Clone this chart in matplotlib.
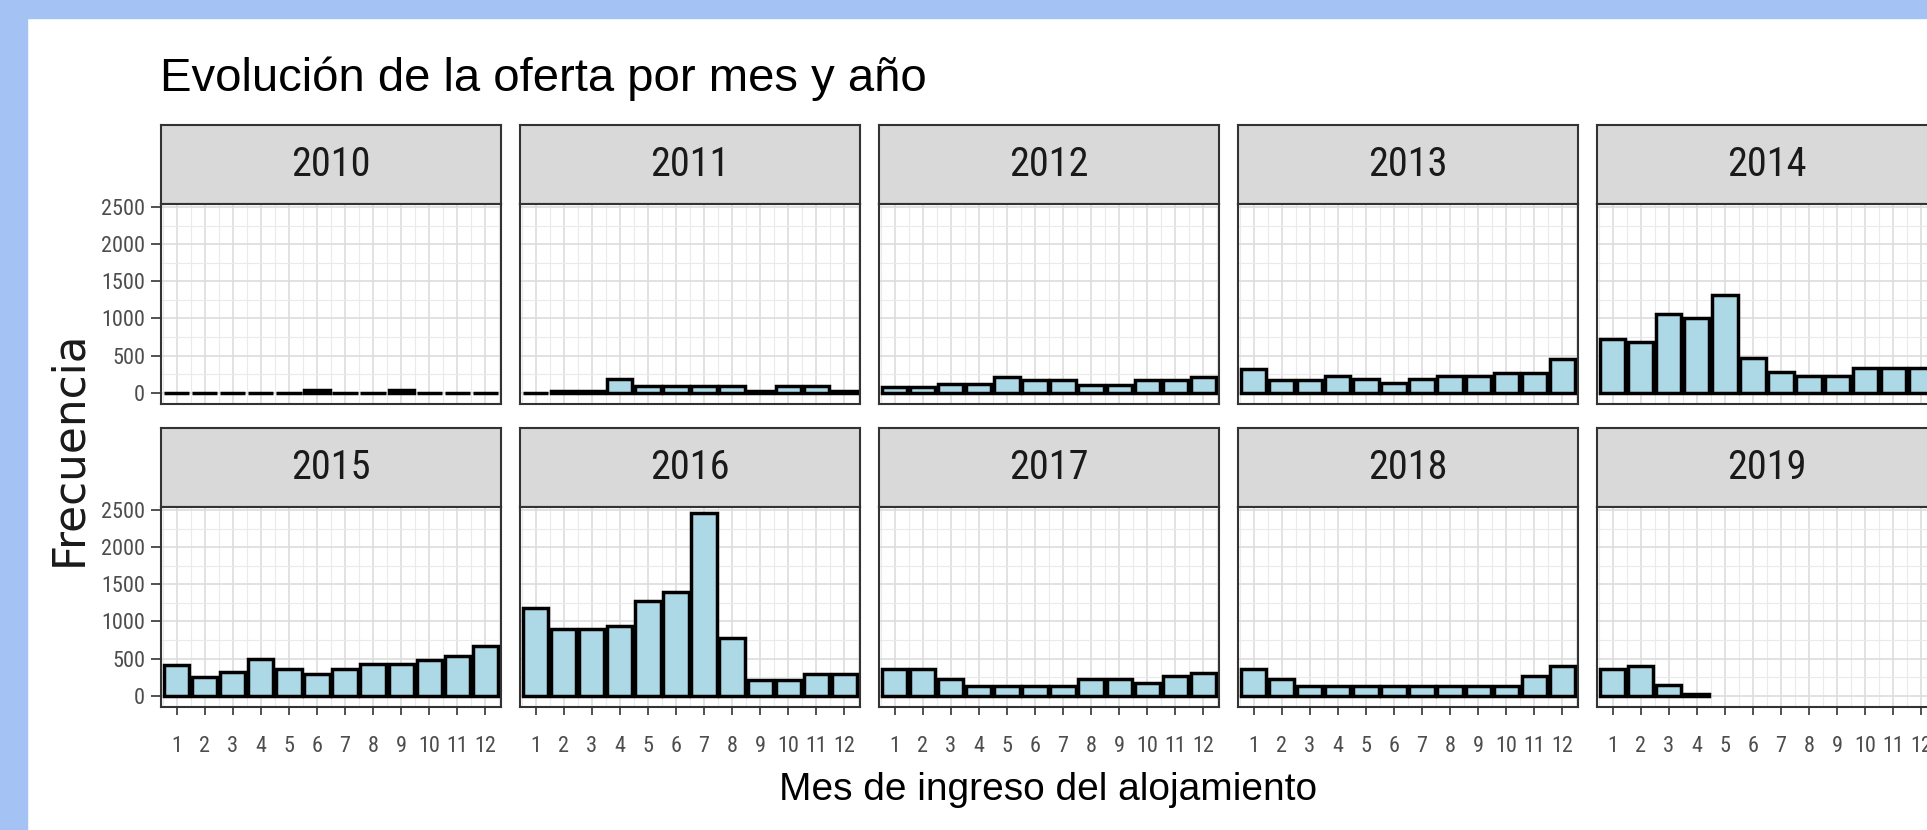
import matplotlib
matplotlib.use("Agg")
import matplotlib.pyplot as plt
from matplotlib import font_manager
from matplotlib.patches import Rectangle

W, H = 1927, 830

years = [2010, 2011, 2012, 2013, 2014, 2015, 2016, 2017, 2018, 2019]
months = [1, 2, 3, 4, 5, 6, 7, 8, 9, 10, 11, 12]
months_2019 = [1, 2, 3, 4]

c2010 = [4, 4, 4, 4, 4, 40, 4, 4, 40, 4, 4, 4]
c2011 = [3, 30, 30, 185, 90, 90, 90, 90, 30, 90, 90, 30]
c2012 = [75, 75, 115, 115, 215, 175, 175, 110, 110, 175, 175, 215]
c2013 = [320, 175, 175, 230, 190, 130, 185, 220, 220, 270, 270, 450]
c2014 = [730, 690, 1060, 1000, 1320, 465, 285, 220, 220, 330, 330, 330]
c2015 = [410, 260, 315, 500, 365, 300, 360, 435, 435, 480, 535, 675]
c2016 = [1180, 895, 895, 945, 1270, 1400, 2455, 775, 210, 210, 300, 300]
c2017 = [365, 365, 225, 130, 130, 130, 130, 225, 225, 175, 265, 310]
c2018 = [365, 230, 130, 130, 130, 130, 130, 130, 130, 130, 265, 400]
c2019 = [355, 405, 145, 25]

y_ticks = [0, 500, 1000, 1500, 2000, 2500]
y_minor = [250, 750, 1250, 1750, 2250]
x_minor = [0.5, 1.5, 2.5, 3.5, 4.5, 5.5, 6.5, 7.5, 8.5, 9.5, 10.5, 11.5, 12.5]

title = "Evolución de la oferta por mes y año"
xlabel = "Mes de ingreso del alojamiento"
ylabel = "Frecuencia"

# ggplot text in the screenshot looks condensed; use a narrow face if there is one
names = {f.name for f in font_manager.fontManager.ttflist}
narrow_faces = ["Liberation Sans Narrow", "Arial Narrow", "Roboto Condensed",
                "Noto Sans Condensed", "Open Sans Condensed"]
NARROW = next((n for n in narrow_faces if n in names), None)
if NARROW:
    strip_size, tick_size = 29, 16
else:
    NARROW, strip_size, tick_size = "Liberation Sans", 26, 15


def px_box(left, top, width, height):
    return [left / W, 1 - (top + height) / H, width / W, height / H]


def draw_panel(fig, x0, top, year, xs, ys, row, col):
    strip_h, panel_h, panel_w = 79, 200, 340

    sax = fig.add_axes(px_box(x0, top, panel_w, strip_h))
    sax.set_facecolor("#D9D9D9")
    sax.set_xticks([])
    sax.set_yticks([])
    for s in sax.spines.values():
        s.set_color("#333333")
        s.set_linewidth(1.5)
    sax.text(0.5, 0.5, str(year), ha="center", va="center", fontsize=strip_size,
             color="#1A1A1A", family=NARROW, transform=sax.transAxes)

    ax = fig.add_axes(px_box(x0, top + strip_h, panel_w, panel_h))
    ax.set_xlim(0.44, 12.56)
    ax.set_ylim(-150, 2540)
    ax.set_xticks(months)
    ax.set_xticks(x_minor, minor=True)
    ax.set_yticks(y_ticks)
    ax.set_yticks(y_minor, minor=True)
    ax.grid(which="major", color="#DDDDDD", linewidth=1.2)
    ax.grid(which="minor", color="#EAEAEA", linewidth=0.8)
    ax.set_axisbelow(True)

    ax.bar(xs, ys, width=0.9, color="#ADD8E6", edgecolor="black", linewidth=2.5)

    for s in ax.spines.values():
        s.set_color("#333333")
        s.set_linewidth(1.5)

    ax.tick_params(which="minor", length=0)
    if row == 1:
        ax.tick_params(axis="x", which="major", length=6, width=1.2, color="#333333",
                       pad=15, labelsize=tick_size, labelcolor="#4D4D4D")
        for t in ax.get_xticklabels():
            t.set_family(NARROW)
    else:
        ax.tick_params(axis="x", which="major", length=0, labelbottom=False)
    if col == 0:
        ax.tick_params(axis="y", which="major", length=7.5, width=1.2, color="#333333",
                       pad=4, labelsize=tick_size, labelcolor="#4D4D4D")
        for t in ax.get_yticklabels():
            t.set_family(NARROW)
    else:
        ax.tick_params(axis="y", which="major", length=0, labelleft=False)


def run():
    fig = plt.figure(figsize=(W / 100, H / 100), dpi=100)
    fig.patch.set_facecolor("white")

    # blue frame of the slide the chart was pasted on
    fig.patches.append(Rectangle((0, 0), 27 / W, 1, transform=fig.transFigure,
                                 color="#A4C2F4", zorder=0))
    fig.patches.append(Rectangle((0, 1 - 18 / H), 1, 18 / H, transform=fig.transFigure,
                                 color="#A4C2F4", zorder=0))

    counts = [c2010, c2011, c2012, c2013, c2014, c2015, c2016, c2017, c2018, c2019]
    col_left = [161, 520, 879, 1238, 1597]
    row_top = [125, 428]

    for i, year in enumerate(years):
        row, col = i // 5, i % 5
        xs = months_2019 if year == 2019 else months
        draw_panel(fig, col_left[col], row_top[row], year, xs, counts[i], row, col)

    fig.text(160 / W, 1 - 91 / H, title, fontsize=34, ha="left", va="baseline",
             family="Liberation Sans", color="black")
    fig.text(1048 / W, 1 - 800 / H, xlabel, fontsize=28, ha="center", va="baseline",
             family="Liberation Sans", color="black")
    fig.text(69 / W, 1 - 448 / H, ylabel, fontsize=31.5, rotation=90, ha="center",
             va="center", family="DejaVu Sans", color="#1A1A1A")

    fig.savefig("out.png", dpi=100)


if __name__ == "__main__":
    run()
